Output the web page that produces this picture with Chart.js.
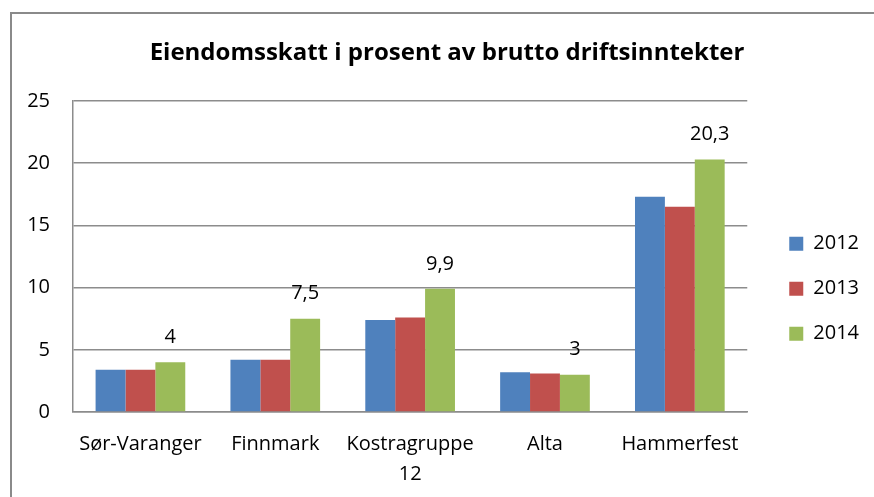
<!DOCTYPE html>
<html>
<head>
<meta charset="utf-8">
<script src="https://cdn.jsdelivr.net/npm/chart.js@4/dist/chart.umd.min.js"></script>
<style>
  html, body { margin: 0; padding: 0; background: #fff; overflow: hidden; }
  canvas { display: block; }
</style>
</head>
<body>
<canvas id="graf" width="874" height="497"></canvas>
<script>
// Eiendomsskatt i prosent av brutto driftsinntekter, 2012-2014
const kommuner = ['Sør-Varanger', 'Finnmark', ['Kostragruppe', '12'], 'Alta', 'Hammerfest'];
const aar = ['2012', '2013', '2014'];
const verdier2012 = [3.4, 4.2, 7.4, 3.2, 17.3];
const verdier2013 = [3.4, 4.2, 7.6, 3.1, 16.5];
const verdier2014 = [4, 7.5, 9.9, 3, 20.3];
const yTicks = [0, 5, 10, 15, 20, 25];

const farger = ['#4F81BD', '#C0504D', '#9BBB59'];
const skrift = '"Open Sans", Lato, sans-serif';
const grå = '#8c8c8c';

// ramme rundt diagramområdet (venstre og øvre kant)
const ramme = {
  id: 'ramme',
  beforeDraw(chart) {
    const ctx = chart.ctx;
    ctx.save();
    ctx.strokeStyle = '#8a8a8a';
    ctx.lineWidth = 2;
    ctx.beginPath();
    ctx.moveTo(11, chart.height);
    ctx.lineTo(11, 13);
    ctx.lineTo(chart.width, 13);
    ctx.stroke();
    ctx.restore();
  }
};

// verditekst over søylene for 2014
const verdiEtiketter = {
  id: 'verdiEtiketter',
  afterDatasetsDraw(chart) {
    const ctx = chart.ctx;
    const meta = chart.getDatasetMeta(2);
    ctx.save();
    ctx.font = '20px ' + skrift;
    ctx.fillStyle = '#000';
    ctx.textAlign = 'center';
    ctx.textBaseline = 'middle';
    meta.data.forEach((bar, i) => {
      const tekst = String(verdier2014[i]).replace('.', ',');
      ctx.fillText(tekst, bar.x, bar.y - 25);
    });
    ctx.restore();
  }
};

const ctx = document.getElementById('graf').getContext('2d');
new Chart(ctx, {
  type: 'bar',
  data: {
    labels: kommuner,
    datasets: [verdier2012, verdier2013, verdier2014].map((d, i) => ({
      label: aar[i],
      data: d,
      backgroundColor: farger[i],
      borderWidth: 0,
      categoryPercentage: 0.665,
      barPercentage: 1,
      yAxisID: 'y'
    }))
  },
  options: {
    responsive: false,
    animation: false,
    layout: { padding: { left: 12, top: 14, right: -8, bottom: 0 } },
    plugins: {
      tooltip: { enabled: false },
      title: {
        display: true,
        text: 'Eiendomsskatt i prosent av brutto driftsinntekter',
        color: '#000',
        font: { family: skrift, size: 24, weight: 'bold', lineHeight: 1.2 },
        padding: { top: 25, bottom: 33.2 }
      },
      legend: {
        position: 'right',
        align: 'center',
        title: { display: true, text: '', font: { size: 12, lineHeight: 1.2 }, padding: { top: 52, bottom: 0 } },
        labels: {
          boxWidth: 14,
          boxHeight: 14,
          padding: 25,
          color: '#000',
          font: { family: skrift, size: 20 }
        }
      }
    },
    scales: {
      x: {
        grid: { display: false, drawTicks: false, tickLength: 0 },
        border: { display: true, color: grå, width: 1.5 },
        ticks: {
          color: '#000',
          padding: 17,
          maxRotation: 0,
          autoSkip: false,
          font: { family: skrift, size: 20, lineHeight: 1.5 }
        },
        afterFit(s) { s.height = 85; }
      },
      y: {
        min: 0,
        max: 25,
        afterBuildTicks(s) { s.ticks = yTicks.map(v => ({ value: v })); },
        grid: { color: grå, lineWidth: 1.5, drawTicks: false, tickLength: 0 },
        border: { display: true, color: grå, width: 1.5 },
        ticks: {
          color: '#000',
          padding: 23,
          font: { family: skrift, size: 20 }
        },
        afterFit(s) { s.width = 61; }
      },
      // tomt mellomrom mellom plottet og forklaringen
      luft: {
        position: 'right',
        display: true,
        grid: { display: false, drawTicks: false },
        border: { display: false },
        ticks: { display: false },
        afterFit(s) { s.width = 17; }
      },
      // marg til høyre for forklaringen
      marg: {
        position: 'right',
        display: true,
        weight: 2000,
        grid: { display: false, drawTicks: false },
        border: { display: false },
        ticks: { display: false },
        afterFit(s) { s.width = 13; }
      }
    }
  },
  plugins: [ramme, verdiEtiketter]
});
</script>
</body>
</html>
